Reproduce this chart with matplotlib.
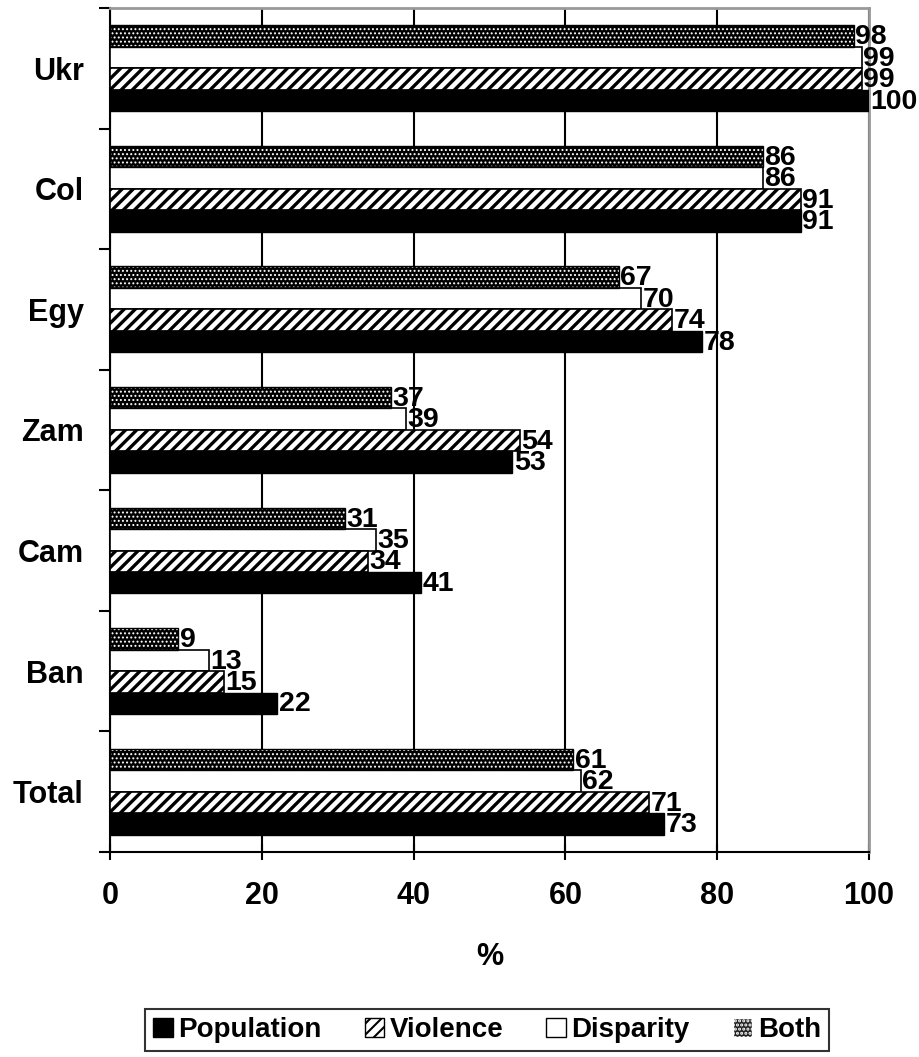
import numpy as np
import matplotlib.pyplot as plt
from matplotlib.patches import Patch

plt.rcParams['font.family'] = ['Liberation Sans', 'DejaVu Sans']
plt.rcParams['font.weight'] = 'bold'

# data (top to bottom in the chart)
countries = ['Ukr', 'Col', 'Egy', 'Zam', 'Cam', 'Ban', 'Total']
population = [100, 91, 78, 53, 41, 22, 73]
violence = [99, 91, 74, 54, 34, 15, 71]
disparity = [99, 86, 70, 39, 35, 13, 62]
both = [98, 86, 67, 37, 31, 9, 61]

fig = plt.figure(figsize=(9.19, 10.57), dpi=100)
ax = fig.add_axes([0.1197, 0.194, 0.826, 0.7985])

n = len(countries)
y = np.arange(n)[::-1].astype(float)  # Ukr at top
h = 0.178

# offsets: both top, then disparity, violence, population bottom
offs = [1.5 * h, 0.5 * h, -0.5 * h, -1.5 * h]
series = [both, disparity, violence, population]

for k, (vals, off) in enumerate(zip(series, offs)):
    pos = y + off
    if k == 0:
        plt.rcParams['hatch.linewidth'] = 0.9
        ax.barh(pos, vals, height=h, color='black', hatch='....',
                edgecolor='white', linewidth=0, zorder=3)
        ax.barh(pos, vals, height=h, color='none', edgecolor='black',
                linewidth=1, zorder=4)
    elif k == 1:
        ax.barh(pos, vals, height=h, color='white', edgecolor='black',
                linewidth=1.2, zorder=3)
    elif k == 2:
        plt.rcParams['hatch.linewidth'] = 2.4
        ax.barh(pos, vals, height=h, color='white', edgecolor='black',
                hatch='///', linewidth=1.2, zorder=3)
    else:
        ax.barh(pos, vals, height=h, color='black', edgecolor='black',
                linewidth=1, zorder=3)
    for p, v in zip(pos, vals):
        ax.text(v + 0.2, p - 0.01, str(v), va='center', ha='left',
                fontsize=20.5, fontweight='bold', zorder=5)

ax.set_xlim(0, 100)
ax.set_ylim(-0.5, n - 0.5)
ax.set_xticks([0, 20, 40, 60, 80, 100])
ax.tick_params(axis='x', direction='inout', length=12, width=1.5,
               labelsize=22, pad=15)
ax.set_xlabel('%', fontsize=22, fontweight='bold', labelpad=22)

ax.set_yticks(y)
ax.set_yticklabels(countries, fontsize=22, fontweight='bold')
ax.tick_params(axis='y', which='major', length=0, pad=19)
ax.set_yticks(np.arange(n + 1) - 0.5, minor=True)
ax.tick_params(axis='y', which='minor', direction='out', length=8, width=1.5)

ax.grid(axis='x', color='black', linewidth=1.5, zorder=0)
ax.set_axisbelow(True)

for s in ['left', 'bottom']:
    ax.spines[s].set_linewidth(1.5)
    ax.spines[s].set_color('black')
for s in ['top', 'right']:
    ax.spines[s].set_linewidth(2)
    ax.spines[s].set_color('#999999')

plt.rcParams['hatch.linewidth'] = 1.5
handles = [
    Patch(facecolor='black', edgecolor='black', label='Population'),
    Patch(facecolor='white', edgecolor='black', hatch='///', label='Violence'),
    Patch(facecolor='white', edgecolor='black', label='Disparity'),
    Patch(facecolor='#222222', edgecolor='white', hatch='....', label='Both'),
]
leg = fig.legend(handles=handles, loc='center', bbox_to_anchor=(0.530, 0.0255),
                 ncol=4, frameon=True, fancybox=False, edgecolor='black',
                 prop={'size': 20, 'weight': 'bold'}, handlelength=0.7,
                 handleheight=0.7, handletextpad=0.2, columnspacing=1.55,
                 borderpad=0.3)
leg.get_frame().set_linewidth(1.5)

fig.savefig('out.png', dpi=100)
